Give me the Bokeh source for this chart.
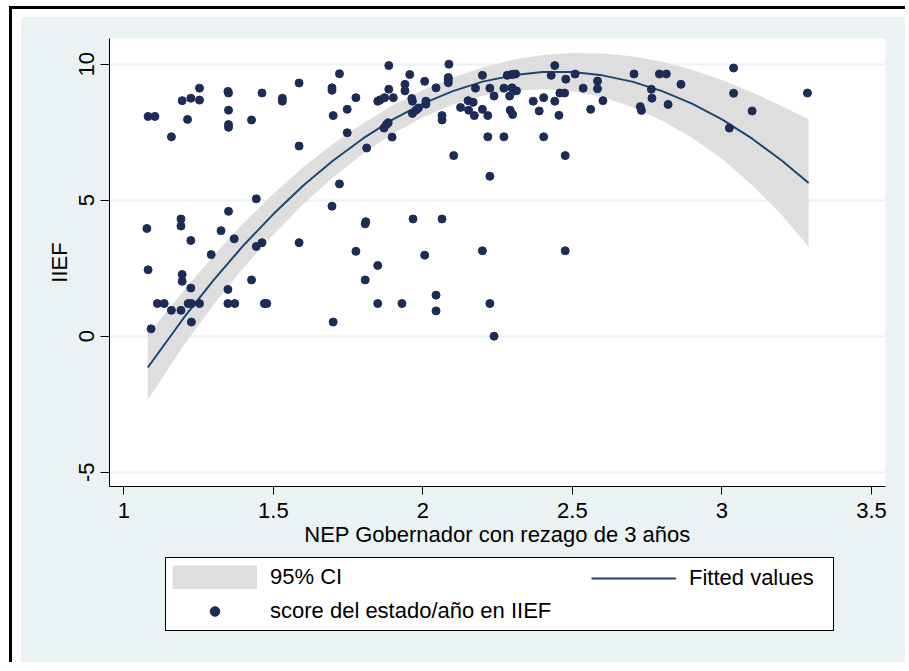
from bokeh.plotting import figure
from bokeh.models import Legend, LegendItem, FixedTicker
from bokeh.layouts import column
from bokeh.embed import file_html
from bokeh.resources import INLINE

# ---- data ----
nep = [1.081, 1.104, 1.077, 1.081, 1.091, 1.112, 1.135, 1.159, 1.159, 1.191,
       1.195, 1.191, 1.191, 1.195, 1.195, 1.213, 1.224, 1.224, 1.224, 1.215,
       1.226, 1.226, 1.253, 1.253, 1.253, 1.292, 1.325, 1.348, 1.350, 1.350,
       1.350, 1.350, 1.350, 1.348, 1.348, 1.371, 1.369, 1.427, 1.427, 1.443,
       1.443, 1.462, 1.462, 1.470, 1.478, 1.530, 1.530, 1.586, 1.586, 1.586,
       1.696, 1.696, 1.700, 1.696, 1.700, 1.721, 1.721, 1.747, 1.747, 1.776,
       1.776, 1.812, 1.809, 1.807, 1.807, 1.849, 1.857, 1.849, 1.849, 1.872,
       1.870, 1.878, 1.884, 1.886, 1.886, 1.897, 1.901, 1.930, 1.940, 1.940,
       1.956, 1.963, 1.965, 1.965, 1.967, 1.977, 1.985, 2.006, 2.010, 2.010,
       2.006, 2.044, 2.044, 2.044, 2.064, 2.064, 2.064, 2.087, 2.085, 2.085,
       2.085, 2.103, 2.126, 2.151, 2.153, 2.168, 2.172, 2.176, 2.199, 2.199,
       2.199, 2.217, 2.217, 2.224, 2.224, 2.224, 2.238, 2.238, 2.271, 2.271,
       2.282, 2.290, 2.292, 2.296, 2.298, 2.300, 2.306, 2.310, 2.313, 2.302,
       2.369, 2.389, 2.404, 2.404, 2.429, 2.441, 2.441, 2.455, 2.458, 2.474,
       2.478, 2.476, 2.476, 2.509, 2.536, 2.561, 2.584, 2.584, 2.602, 2.706,
       2.727, 2.731, 2.764, 2.766, 2.791, 2.814, 2.820, 2.863, 3.025, 3.039,
       3.039, 3.101, 3.286]
iief = [8.08, 8.08, 3.96, 2.44, 0.27, 1.20, 1.20, 7.33, 0.95, 0.95,
        8.66, 4.31, 4.05, 2.27, 2.02, 7.97, 8.75, 3.52, 1.77, 1.20,
        1.20, 0.52, 9.12, 8.68, 1.20, 3.00, 3.88, 9.00, 8.94, 8.31,
        7.78, 7.68, 4.59, 1.72, 1.20, 1.20, 3.58, 7.95, 2.07, 5.05,
        3.30, 3.44, 8.94, 1.20, 1.20, 8.75, 8.64, 9.31, 6.99, 3.44,
        9.13, 9.04, 8.11, 4.78, 0.52, 9.65, 5.60, 8.34, 7.48, 8.77,
        3.12, 6.92, 4.21, 4.13, 2.07, 8.64, 8.69, 2.60, 1.20, 8.77,
        7.65, 7.78, 7.85, 9.95, 9.08, 7.32, 8.77, 1.20, 9.26, 9.02,
        9.62, 8.74, 8.64, 8.19, 4.31, 8.31, 8.39, 9.37, 8.64, 8.53,
        2.98, 9.13, 1.51, 0.93, 8.11, 7.95, 4.31, 10.00, 9.51, 9.43,
        9.32, 6.64, 8.41, 8.66, 8.31, 8.60, 8.11, 9.12, 9.59, 8.34,
        3.14, 8.11, 7.33, 9.12, 5.88, 1.20, 8.83, 0.00, 9.12, 7.33,
        9.59, 8.83, 8.31, 9.62, 9.13, 8.15, 9.02, 9.64, 9.02, 9.63,
        8.64, 8.28, 8.77, 7.33, 9.59, 9.95, 8.64, 8.12, 8.94, 8.94,
        9.45, 6.64, 3.14, 9.64, 9.12, 8.34, 9.38, 9.10, 8.66, 9.64,
        8.44, 8.30, 9.08, 8.75, 9.64, 9.64, 8.52, 9.26, 7.65, 9.86,
        8.93, 8.28, 8.94]

# fitted values and 95% CI
fit_x = [1.08, 1.2, 1.3, 1.4, 1.5, 1.6, 1.7, 1.8, 1.9, 2.0, 2.1, 2.2,
         2.3, 2.4, 2.5, 2.6, 2.7, 2.8, 2.9, 3.0, 3.1, 3.2, 3.29]
fit_y = [-1.15, 0.67, 2.06, 3.34, 4.49, 5.54, 6.46, 7.27, 7.97, 8.55, 9.01, 9.36,
         9.59, 9.71, 9.71, 9.59, 9.36, 9.01, 8.55, 7.97, 7.27, 6.46, 5.63]
ci_low = [-2.35, -0.33, 1.16, 2.52, 3.74, 4.86, 5.84, 6.71, 7.45, 8.05, 8.51, 8.84,
          9.02, 9.08, 9.01, 8.79, 8.43, 7.93, 7.30, 6.52, 5.57, 4.46, 3.28]
ci_high = [0.05, 1.67, 2.96, 4.16, 5.24, 6.22, 7.08, 7.83, 8.49, 9.05, 9.51, 9.88,
           10.16, 10.34, 10.41, 10.39, 10.29, 10.09, 9.80, 9.42, 8.97, 8.46, 7.98]

x_ticks = [1, 1.5, 2, 2.5, 3, 3.5]
x_tick_labels = ["1", "1.5", "2", "2.5", "3", "3.5"]
y_ticks = [-5, 0, 5, 10]
y_tick_labels = ["-5", "0", "5", "10"]
x_title = "NEP Gobernador con rezago de 3 años"
y_title = "IIEF"
legend_labels = ["95% CI", "Fitted values", "score del estado/año en IIEF"]

FONT = "Liberation Sans"
BG = "#EAF2F3"
CI_COLOR = "#DEDEDE"
LINE_COLOR = "#1A476F"
DOT_COLOR = "#1C2B57"

p = figure(frame_width=776, frame_height=448,
           min_border_left=88, min_border_right=20,
           min_border_top=21, min_border_bottom=70,
           x_range=(0.952, 3.547), y_range=(-5.526, 10.945),
           output_backend="svg", toolbar_location=None,
           background_fill_color="white", border_fill_color=BG)
p.outline_line_color = None

ci = p.varea(x=fit_x, y1=ci_low, y2=ci_high, fill_color=CI_COLOR)
ln = p.line(fit_x, fit_y, line_color=LINE_COLOR, line_width=2)
sc = p.scatter(nep, iief, size=8, fill_color=DOT_COLOR, line_color=DOT_COLOR)

p.xaxis.ticker = FixedTicker(ticks=x_ticks)
p.xaxis.major_label_overrides = dict(zip(x_ticks, x_tick_labels))
p.yaxis.ticker = FixedTicker(ticks=y_ticks)
p.yaxis.major_label_overrides = dict(zip(y_ticks, y_tick_labels))
p.xaxis.axis_label = x_title
p.yaxis.axis_label = y_title
for ax in (p.xaxis[0], p.yaxis[0]):
    ax.axis_line_color = "black"
    ax.major_tick_line_color = "black"
    ax.minor_tick_line_color = None
    ax.major_tick_in = 0
    ax.major_label_text_font = FONT
    ax.major_label_text_font_size = "22px"
    ax.major_label_text_color = "black"
    ax.axis_label_text_font = FONT
    ax.axis_label_text_font_size = "22px"
    ax.axis_label_text_font_style = "normal"
    ax.axis_label_text_color = "black"
p.xaxis.major_tick_out = 8
p.yaxis.major_tick_out = 9
p.xaxis.major_label_standoff = 8
p.yaxis.major_label_standoff = 6
p.xaxis.axis_label_standoff = 1
p.yaxis.axis_label_standoff = 5
p.yaxis.major_label_orientation = "vertical"
p.xgrid.visible = False
p.ygrid.grid_line_color = BG
p.ygrid.grid_line_width = 2

# ---- legend strip below the plot (legend keys use off-range proxies) ----
lg = figure(frame_width=884, frame_height=106, min_border=0,
            x_range=(0, 1), y_range=(0, 1),
            output_backend="svg", toolbar_location=None,
            background_fill_color=BG, border_fill_color=BG)
lg.outline_line_color = None
lg.axis.visible = False
lg.grid.visible = False
d_ci = lg.line(x=[-5, -4], y=[-5, -4], line_color=CI_COLOR, line_width=24,
               line_cap="butt")
d_ln = lg.line(x=[-5, -4], y=[-5, -4], line_color=LINE_COLOR, line_width=2)
d_sc = lg.scatter(x=[-5], y=[-5], size=8, fill_color=DOT_COLOR, line_color=DOT_COLOR)

common = dict(glyph_width=85, glyph_height=24, label_standoff=13, padding=6,
              spacing=8, margin=0, label_text_font=FONT,
              label_text_font_size="22px", label_text_color="black")
leg1 = Legend(items=[LegendItem(label=legend_labels[0], renderers=[d_ci]),
                     LegendItem(label=legend_labels[2], renderers=[d_sc])],
              location=(144, 31), label_width=557,
              border_line_color="black", border_line_width=1, border_line_alpha=1,
              background_fill_color="white", background_fill_alpha=1, **common)
leg2 = Legend(items=[LegendItem(label=legend_labels[1], renderers=[d_ln])],
              location=(570, 71), border_line_color=None,
              background_fill_alpha=0, **common)
lg.add_layout(leg1)
lg.add_layout(leg2)

layout = column(p, lg, spacing=0, width=896, height=656,
                styles={"margin-left": "9px", "margin-top": "6px",
                        "border-left": "3px solid black",
                        "border-top": "3px solid black",
                        "padding-left": "9px", "padding-top": "8px",
                        "background-color": BG,
                        "box-shadow": "inset 9px 8px 0 0 white"})

open("out.html", "w").write(file_html(layout, INLINE))
